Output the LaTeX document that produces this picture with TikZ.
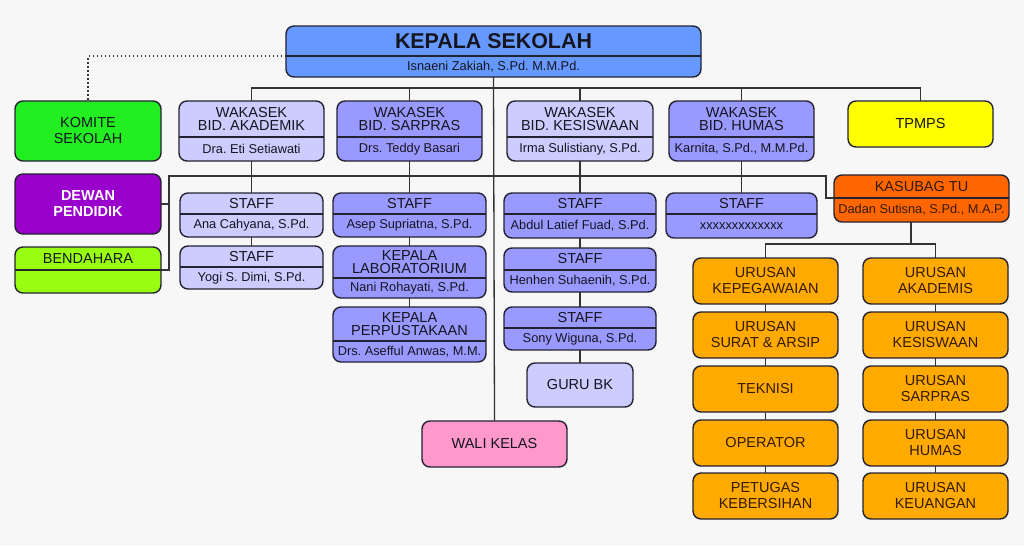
\documentclass[tikz,border=0pt]{standalone}
\usepackage{fontspec}
\setmainfont{Liberation Sans}
\frenchspacing
\definecolor{bgc}{HTML}{F7F7F7}
\definecolor{bordc}{HTML}{222233}
\definecolor{linec}{HTML}{333333}
\definecolor{txtc}{HTML}{151520}
\definecolor{kblue}{HTML}{6699FF}
\definecolor{lavA}{HTML}{CCCCFF}
\definecolor{lavB}{HTML}{9999FF}
\definecolor{kgreen}{HTML}{22EE22}
\definecolor{kpurple}{HTML}{9900CC}
\definecolor{klime}{HTML}{99FF11}
\definecolor{kyellow}{HTML}{FFFF00}
\definecolor{korange}{HTML}{FF6600}
\definecolor{kamber}{HTML}{FFAA00}
\definecolor{kpink}{HTML}{FF99CC}
\definecolor{brtxt}{HTML}{331A00}
\tikzset{
  box/.style={draw=bordc, line width=1.4pt, rounded corners=8pt, inner sep=0pt, outer sep=0pt,
    align=center, font=\fontsize{14.5}{16}\selectfont, text=txtc},
  boxline/.style={draw=bordc, line width=1.4pt},
  ttl/.style={inner sep=0pt, align=center, font=\fontsize{14.5}{13.5}\selectfont, text=txtc},
  nm/.style={inner sep=0pt, align=center, font=\fontsize{12.8}{14}\selectfont, text=txtc},
  conn/.style={draw=linec, line width=1.3pt},
  dotc/.style={draw=linec, line width=1.5pt, dash pattern=on 1.5pt off 2.5pt},
}
% name x1 y1 x2 y2 fill opts text
\newcommand\mybox[8]{%
  \pgfmathsetmacro\mbw{#4-#2}\pgfmathsetmacro\mbh{#5-#3}%
  \node[box, fill=#6, minimum width=\mbw pt, minimum height=\mbh pt, #7] (#1) at ({(#2+#4)/2},{(#3+#5)/2}) {#8};}
% name x1 y1 x2 y2 ydiv fill title sub
\newcommand\mytwo[9]{%
  \pgfmathsetmacro\mbw{#4-#2}\pgfmathsetmacro\mbh{#5-#3}%
  \node[box, fill=#7, minimum width=\mbw pt, minimum height=\mbh pt] (#1) at ({(#2+#4)/2},{(#3+#5)/2}) {};
  \coordinate (#1-dl) at (#2,#6); \coordinate (#1-dr) at (#4,#6);
  \draw[boxline] (#1-dl) -- (#1-dr);
  \node[ttl] (#1-t) at ({(#2+#4)/2},{(#3+#6)/2}) {#8};
  \node[nm] (#1-s) at ({(#2+#4)/2},{(#6+#5)/2}) {#9};}
\begin{document}
\begin{tikzpicture}[x=1pt,y=-1pt]
\fill[bgc] (0,0) rectangle (1024,546);
\useasboundingbox (0,0) rectangle (1024,546);

\begin{scope}[ttl/.append style={font=\bfseries\fontsize{21.4}{24}\selectfont}]
\mytwo{kepala}{286}{26}{701}{77}{56}{kblue}{KEPALA SEKOLAH}{Isnaeni Zakiah, S.Pd. M.M.Pd.}
\end{scope}

\mybox{komite}{15}{101}{161}{161}{kgreen}{}{KOMITE\\SEKOLAH}
\mytwo{akad}{179}{101}{324}{161}{137}{lavA}{WAKASEK\\BID. AKADEMIK}{Dra. Eti Setiawati}
\mytwo{sarp}{337}{101}{482}{161}{137}{lavB}{WAKASEK\\BID. SARPRAS}{Drs. Teddy Basari}
\mytwo{kesi}{507}{101}{653}{161}{137}{lavA}{WAKASEK\\BID. KESISWAAN}{Irma Sulistiany, S.Pd.}
\mytwo{humas}{669}{101}{814}{161}{137}{lavB}{WAKASEK\\BID. HUMAS}{Karnita, S.Pd., M.M.Pd.}
\mybox{tpmps}{848}{101}{993}{147}{kyellow}{}{TPMPS}

\mybox{dewan}{15}{174}{161}{234}{kpurple}{text=white, font=\bfseries\fontsize{14.5}{16}\selectfont}{DEWAN\\PENDIDIK}
\mytwo{bend}{15}{247}{161}{293}{270}{klime}{BENDAHARA}{}

\mytwo{ak1}{180}{193}{323}{237}{214}{lavA}{STAFF}{Ana Cahyana, S.Pd.}
\mytwo{ak2}{180}{246}{323}{289}{267}{lavA}{STAFF}{Yogi S. Dimi, S.Pd.}

\mytwo{sp1}{333}{193}{486}{237}{214}{lavB}{STAFF}{Asep Supriatna, S.Pd.}
\mytwo{lab}{333}{246}{486}{298}{278}{lavB}{KEPALA\\LABORATORIUM}{Nani Rohayati, S.Pd.}
\mytwo{pus}{333}{307}{486}{362}{341}{lavB}{KEPALA\\PERPUSTAKAAN}{Drs. Asefful Anwas, M.M.}

\mytwo{ks1}{504}{193}{656}{238}{214}{lavB}{STAFF}{Abdul Latief Fuad, S.Pd.}
\mytwo{ks2}{504}{248}{656}{292}{270}{lavB}{STAFF}{Henhen Suhaenih, S.Pd.}
\mytwo{ks3}{504}{307}{656}{350}{328}{lavB}{STAFF}{Sony Wiguna, S.Pd.}
\mybox{guru}{527}{363}{633}{407}{lavA}{}{GURU BK}

\mytwo{hm1}{666}{193}{817}{238}{214}{lavB}{STAFF}{xxxxxxxxxxxxx}

\begin{scope}[ttl/.append style={text=brtxt}, nm/.append style={text=brtxt}]
\mytwo{kasubag}{834}{175}{1009}{222}{198}{korange}{KASUBAG TU}{Dadan Sutisna, S.Pd., M.A.P.}
\end{scope}

\mybox{wali}{422}{421}{567}{467}{kpink}{}{WALI KELAS}

\begin{scope}[box/.append style={text=brtxt}]
\mybox{o1}{693}{258}{838}{304}{kamber}{}{URUSAN\\KEPEGAWAIAN}
\mybox{o2}{693}{312}{838}{358}{kamber}{}{URUSAN\\SURAT \& ARSIP}
\mybox{o3}{693}{366}{838}{412}{kamber}{}{TEKNISI}
\mybox{o4}{693}{420}{838}{466}{kamber}{}{OPERATOR}
\mybox{o5}{693}{473}{838}{519}{kamber}{}{PETUGAS\\KEBERSIHAN}
\mybox{p1}{863}{258}{1008}{304}{kamber}{}{URUSAN\\AKADEMIS}
\mybox{p2}{863}{312}{1008}{358}{kamber}{}{URUSAN\\KESISWAAN}
\mybox{p3}{863}{366}{1008}{412}{kamber}{}{URUSAN\\SARPRAS}
\mybox{p4}{863}{420}{1008}{466}{kamber}{}{URUSAN\\HUMAS}
\mybox{p5}{863}{473}{1008}{519}{kamber}{}{URUSAN\\KEUANGAN}
\end{scope}

% connectors
\coordinate (b1) at (0,88);
\coordinate (j) at (169,176);
\coordinate (jr) at (826,176);
\coordinate (b3) at (0,244);
\coordinate (kt) at (911,222);

\draw[dotc] (kepala-dl) -| (komite.north);
\draw[conn] (kepala.south) -- (wali.north);
\draw[conn] (akad.north) -- (akad.north |- b1) -| (tpmps.north);
\draw[conn] (sarp.north) -- (sarp.north |- b1);
\draw[conn] (kesi.north) -- (kesi.north |- b1);
\draw[conn] (humas.north) -- (humas.north |- b1);

\draw[conn] (akad.south) -- (ak1.north) (ak1.south) -- (ak2.north);
\draw[conn] (sarp.south) -- (sp1.north) (sp1.south) -- (lab.north) (lab.south) -- (pus.north);
\draw[conn] (kesi.south) -- (ks1.north) (ks1.south) -- (ks2.north) (ks2.south) -- (ks3.north) (ks3.south) -- (guru.north);
\draw[conn] (humas.south) -- (hm1.north);

\draw[conn] (bend-dr) -| (j) -- (jr) |- (kasubag-dl);
\draw[conn] (dewan.east) -- (dewan.east -| j);

\draw[conn] (kt) -- (kt |- b3);
\draw[conn] (o1.north) -- (o1.north |- b3) -| (p1.north);
\draw[conn] (o1.south) -- (o2.north) (o2.south) -- (o3.north) (o3.south) -- (o4.north) (o4.south) -- (o5.north);
\draw[conn] (p1.south) -- (p2.north) (p2.south) -- (p3.north) (p3.south) -- (p4.north) (p4.south) -- (p5.north);
\end{tikzpicture}
\end{document}
